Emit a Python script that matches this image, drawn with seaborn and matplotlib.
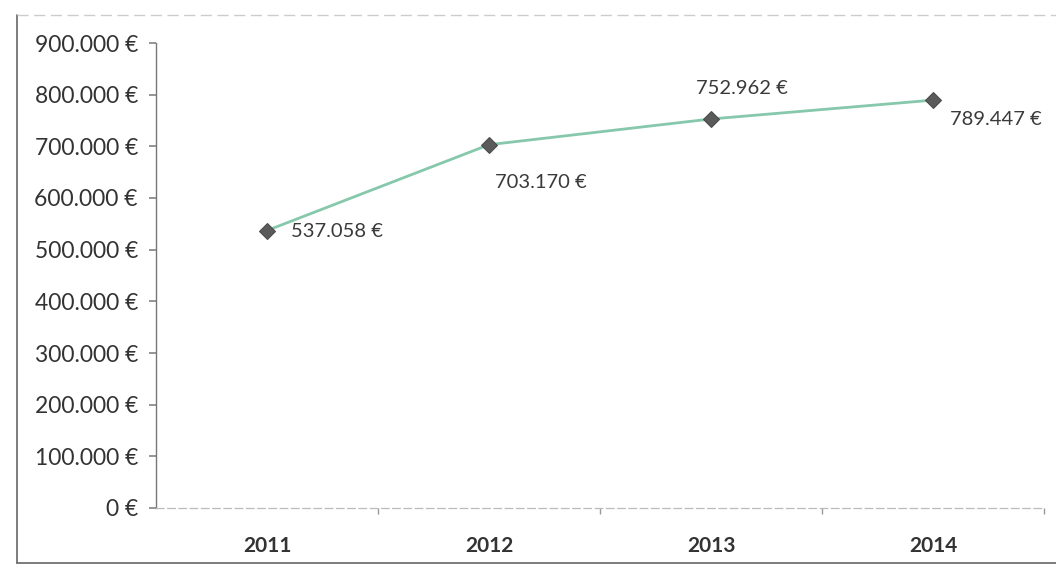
import matplotlib
matplotlib.use("Agg")
import matplotlib.pyplot as plt
import matplotlib.ticker as mticker
from matplotlib.lines import Line2D
import seaborn as sns
import pandas as pd

years = ["2011", "2012", "2013", "2014"]
revenue = [537058, 703170, 752962, 789447]
label_offsets = [(17, -1), (4, -27), (-11, 22), (12, -14)]  # points, per label

sns.set_theme(style="white")
plt.rcParams["font.family"] = ["Lato", "DejaVu Sans"]


def euro(v):
    return f"{v:,.0f}".replace(",", ".") + " €"


df = pd.DataFrame({"year": years, "revenue": revenue})

fig = plt.figure(figsize=(10.56, 5.67), dpi=100)
ax = fig.add_axes([156 / 1056, 1 - 508 / 567, (1044 - 156) / 1056, (508 - 43) / 567])

sns.lineplot(data=df, x="year", y="revenue", ax=ax, color="#86c8ab", linewidth=2.0,
             marker="D", markersize=8.5, markerfacecolor="#5a5a5a",
             markeredgecolor="#4a4a4a", sort=False)

ax.set_xlim(-0.5, len(years) - 0.5)
ax.set_ylim(0, 900000)
ax.yaxis.set_major_locator(mticker.MultipleLocator(100000))
ax.yaxis.set_major_formatter(mticker.FuncFormatter(lambda v, _: euro(v)))
ax.set_xlabel("")
ax.set_ylabel("")

for i, (v, off) in enumerate(zip(revenue, label_offsets)):
    ax.annotate(euro(v), (i, v), xytext=off, textcoords="offset points",
                ha="left", va="center", fontsize=14.5, color="#3a3a3a")

for s in ["top", "right"]:
    ax.spines[s].set_visible(False)
ax.spines["left"].set_color("#777777")
ax.spines["left"].set_linewidth(1.0)
ax.spines["bottom"].set_color("#bbbbbb")
ax.spines["bottom"].set_linestyle((0, (6, 3)))
ax.spines["bottom"].set_linewidth(0.9)

ax.tick_params(axis="y", left=True, length=5, color="#888888", labelsize=16.5,
               labelcolor="#333333", pad=8)
ax.tick_params(axis="x", bottom=False, labelsize=15, labelcolor="#333333", pad=14)
for t in ax.get_xticklabels():
    t.set_fontweight("bold")
ax.set_xticks([i + 0.5 for i in range(len(years))], minor=True)
ax.tick_params(axis="x", which="minor", bottom=True, length=4, color="#999999")

# chart area border: solid left and bottom edges, faint top edge
W, H = 1056, 567
fig.lines.append(Line2D([17 / W, 17 / W], [1 - 15 / H, 1 - 563 / H], transform=fig.transFigure,
                        color="#666666", linewidth=1.2))
fig.lines.append(Line2D([17 / W, 1.0], [1 - 563 / H, 1 - 563 / H], transform=fig.transFigure,
                        color="#666666", linewidth=1.2))
fig.lines.append(Line2D([17 / W, 1.0], [1 - 15 / H, 1 - 15 / H], transform=fig.transFigure,
                        color="#cccccc", linewidth=1.0, linestyle=(0, (8, 4))))

fig.savefig("out.png", dpi=100)
